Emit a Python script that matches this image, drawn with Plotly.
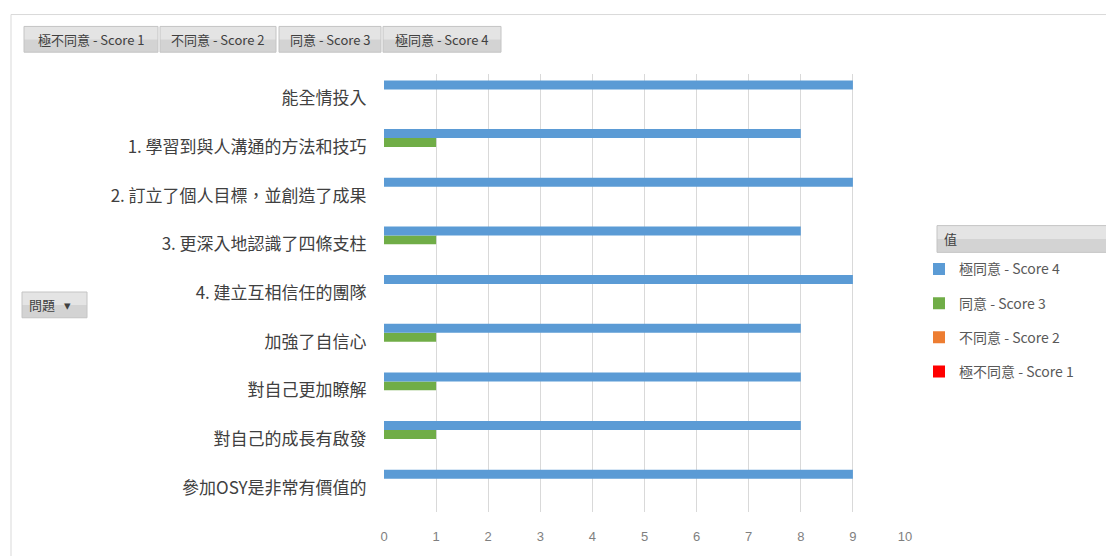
import plotly.graph_objects as go

# Categories listed bottom-to-top (pivot order)
categories = [
    "參加OSY是非常有價值的",
    "對自己的成長有啟發",
    "對自己更加瞭解",
    "加強了自信心",
    "4. 建立互相信任的團隊",
    "3. 更深入地認識了四條支柱",
    "2. 訂立了個人目標，並創造了成果",
    "1. 學習到與人溝通的方法和技巧",
    "能全情投入",
]
series_names = ["極不同意 - Score 1", "不同意 - Score 2", "同意 - Score 3", "極同意 - Score 4"]
score1 = [0, 0, 0, 0, 0, 0, 0, 0, 0]
score2 = [0, 0, 0, 0, 0, 0, 0, 0, 0]
score3 = [0, 1, 1, 1, 0, 1, 0, 1, 0]
score4 = [9, 8, 8, 8, 9, 8, 9, 8, 9]
series_values = [score1, score2, score3, score4]
colors = ["#FF0000", "#ED7D31", "#70AD47", "#5B9BD5"]
x_ticks = list(range(0, 11))
legend_title = "值"
axis_button = "問題"

W, H = 1106, 556
L, R, T, B = 384, 905, 74, 516

def px(p):
    return (p - L) / (R - L)

def py(p):
    return (B - p) / (B - T)

CJK = "Noto Sans CJK TC"

fig = go.Figure()
n = len(series_names)
for i, (name, vals, col) in enumerate(zip(series_names, series_values, colors)):
    fig.add_trace(go.Bar(
        y=categories, x=vals, name=name, orientation="h",
        marker=dict(color=col, line=dict(width=0)),
        legendgroup=f"g{i}", legendrank=1000 + (n - i),
    ))

shapes = []
annotations = []

# outer chart border
shapes.append(dict(type="rect", xref="paper", yref="paper",
                   x0=px(11), x1=px(1120), y0=py(14), y1=py(570),
                   line=dict(color="#d9d9d9", width=1), fillcolor="rgba(0,0,0,0)", layer="below"))

def button(x0, x1, y0, y1, text, tx=None, anchor="center", size=13):
    mid = (y0 + y1) / 2
    shapes.append(dict(type="rect", xref="paper", yref="paper",
                       x0=px(x0), x1=px(x1), y0=py(y0), y1=py(mid),
                       line=dict(width=0), fillcolor="#e4e4e4", layer="below"))
    shapes.append(dict(type="rect", xref="paper", yref="paper",
                       x0=px(x0), x1=px(x1), y0=py(mid), y1=py(y1),
                       line=dict(width=0), fillcolor="#d3d3d3", layer="below"))
    shapes.append(dict(type="rect", xref="paper", yref="paper",
                       x0=px(x0), x1=px(x1), y0=py(y0), y1=py(y1),
                       line=dict(color="#c4c4c4", width=1), fillcolor="rgba(0,0,0,0)", layer="below"))
    annotations.append(dict(xref="paper", yref="paper",
                            x=px(tx if tx is not None else (x0 + x1) / 2), y=py(mid),
                            text=text, showarrow=False, xanchor=anchor, yanchor="middle",
                            font=dict(family=CJK, size=size, color="#404040")))

# field buttons at top
btn_x = [(24, 158), (160, 276), (279, 381), (383, 501)]
for (x0, x1), name in zip(btn_x, series_names):
    button(x0, x1, 26, 52, name)

# axis field button
button(22, 87, 294, 320, axis_button + "   ▾", tx=27, anchor="left")

# legend title box
button(937, 1110, 227, 254, legend_title, tx=942, anchor="left")

fig.update_layout(
    width=W, height=H,
    margin=dict(l=L, r=W - R, t=T, b=H - B, pad=0),
    paper_bgcolor="white", plot_bgcolor="white",
    barmode="group", bargap=0.265, bargroupgap=0,
    showlegend=True,
    legend=dict(traceorder="grouped", tracegroupgap=13,
                x=px(919), xanchor="left", y=py(255), yanchor="top",
                font=dict(family=CJK, size=14, color="#595959"),
                itemwidth=30, bgcolor="rgba(0,0,0,0)"),
    xaxis=dict(range=[0, 10], tickvals=x_ticks, showgrid=True, gridcolor="#d9d9d9",
               gridwidth=1, zeroline=False, showline=False,
               ticks="outside", ticklen=12, tickcolor="rgba(0,0,0,0)",
               tickfont=dict(family="Liberation Sans", size=13, color="#7f7f7f"),
               fixedrange=True),
    yaxis=dict(type="category", categoryorder="array", categoryarray=categories,
               showgrid=False, zeroline=False, showline=False,
               ticks="outside", ticklen=13, tickcolor="rgba(0,0,0,0)",
               tickfont=dict(family=CJK, size=17, color="#404040"),
               fixedrange=True),
    shapes=shapes,
    annotations=annotations,
    font=dict(family=CJK),
)

fig.write_html("out.html")
